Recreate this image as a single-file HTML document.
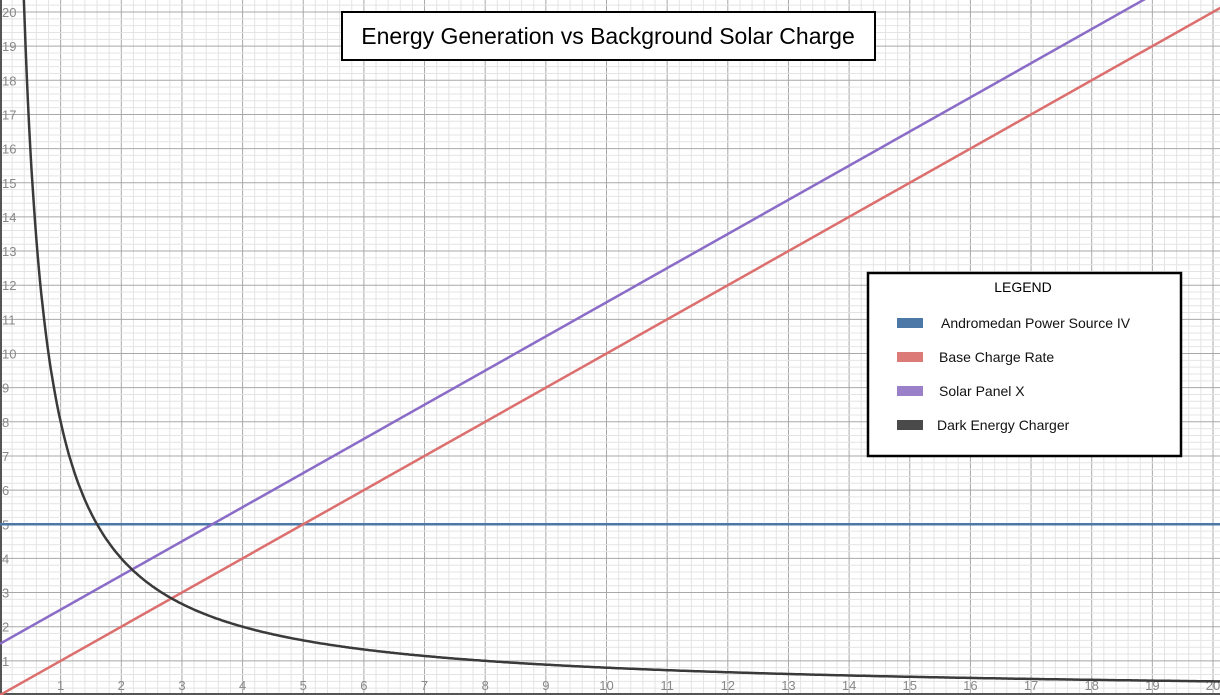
<!DOCTYPE html>
<html><head><meta charset="utf-8"><style>
html,body{margin:0;padding:0;background:#fff;}
svg{display:block;}
text{font-family:"Liberation Sans",sans-serif;}
</style></head><body>
<svg id="s" width="1220" height="695" xmlns="http://www.w3.org/2000/svg"></svg>
<script>
const s=document.getElementById('s');
const X=v=>v*60.65, Y=v=>695-v*34.15;
let h='';
for(let i=0;i<=100;i++){const x=X(i/5);h+=`<line x1="${x}" y1="0" x2="${x}" y2="695" stroke="${i%5?'#e4e4e4':'#a8a8a8'}" stroke-width="1"/>`;}
for(let i=0;i<=102;i++){const y=Y(i/5);h+=`<line x1="0" y1="${y}" x2="1220" y2="${y}" stroke="${i%5?'#e4e4e4':'#a8a8a8'}" stroke-width="1"/>`;}
h+=`<line x1="1" y1="0" x2="1" y2="695" stroke="#555" stroke-width="2"/><line x1="0" y1="694" x2="1220" y2="694" stroke="#555" stroke-width="2"/>`;
for(let i=1;i<=20;i++){h+=`<text x="${X(i)}" y="690" font-size="13" fill="#888" text-anchor="middle">${i}</text>`;
h+=`<text x="2" y="${Y(i)+5}" font-size="13" fill="#888">${i}</text>`;}
h+=`<line x1="0" y1="${Y(5)}" x2="1220" y2="${Y(5)}" stroke="#4c78a8" stroke-width="2.5"/>`;
h+=`<line x1="0" y1="${Y(0)}" x2="${X(21)}" y2="${Y(21)}" stroke="#dc6e6e" stroke-width="2.5"/>`;
h+=`<line x1="0" y1="${Y(1.5)}" x2="${X(20)}" y2="${Y(21.5)}" stroke="#8a6cc8" stroke-width="2.5"/>`;
let p='';for(let x=0.38;x<=20.2;x+=0.02){p+=(p?'L':'M')+X(x).toFixed(1)+','+Y(8/x).toFixed(1);}
h+=`<path d="${p}" fill="none" stroke="#3a3a3a" stroke-width="2.5"/>`;
h+=`<rect x="342" y="12" width="533" height="48" fill="#fff" stroke="#000" stroke-width="2"/><text x="608" y="44" font-size="23" text-anchor="middle" fill="#000">Energy Generation vs Background Solar Charge</text>`;
h+=`<rect x="868" y="273" width="313" height="183" fill="#fff" stroke="#000" stroke-width="2.5"/><text x="1023" y="292" font-size="14" text-anchor="middle">LEGEND</text>`;
const L=[['#4c78a8','Andromedan Power Source IV',941,324],['#dc7a78','Base Charge Rate',939,358],['#9a80c8','Solar Panel X',939,392],['#4a4a4a','Dark Energy Charger',937,426]];
L.forEach(([c,t,tx,y])=>{h+=`<rect x="897" y="${y-6}" width="26" height="10" fill="${c}"/><text x="${tx}" y="${y+4}" font-size="14" fill="#111">${t}</text>`;});
s.innerHTML=h;
</script>
</body></html>
